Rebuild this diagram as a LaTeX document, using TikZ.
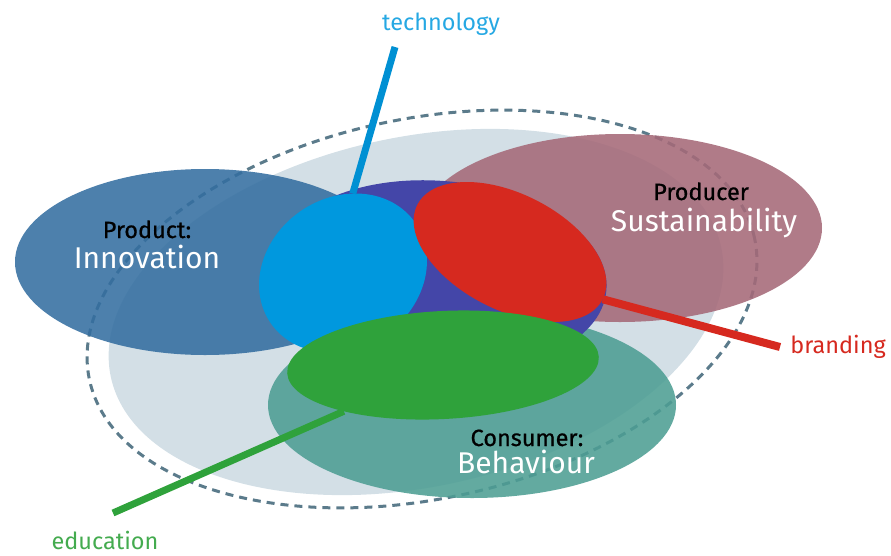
\documentclass[tikz,border=0pt]{standalone}
\usepackage{fontspec}
\setmainfont{Fira Sans}
\newfontfamily\headfont{Fira Sans}[FakeBold=0.6]
\usetikzlibrary{shapes.geometric}

\definecolor{cloudgrey}{HTML}{D3DFE6}
\definecolor{ringgrey}{HTML}{5B7B8B}
\definecolor{productblue}{HTML}{346EA0}
\definecolor{producermauve}{HTML}{A56978}
\definecolor{consumerteal}{HTML}{4D9E93}
\definecolor{corepurple}{HTML}{4446A8}
\definecolor{techblue}{HTML}{0098DE}
\definecolor{brandred}{HTML}{D6291F}
\definecolor{edugreen}{HTML}{2FA23B}

\tikzset{
  blob/.style={ellipse, inner sep=0pt, outer sep=0pt},
  pale/.style={blob, fill opacity=0.88},
  word/.style={font=\fontsize{30}{30}\selectfont, text=white, anchor=base, inner sep=0pt},
  head/.style={font=\headfont\fontsize{23.5}{24}\selectfont, text=black, anchor=base, inner sep=0pt},
  tag/.style={font=\fontsize{23.5}{24}\selectfont, anchor=base, inner sep=0pt},
  spoke/.style={line width=7pt}
}

\begin{document}
\begin{tikzpicture}[x=1pt, y=-1pt]
  \useasboundingbox (0,0) rectangle (891,555);

  \node[blob, fill=cloudgrey, minimum width=624pt, minimum height=350pt, rotate=12] (cloud) at (416,312) {};
  \node[blob, draw=ringgrey, line width=3pt, dash pattern=on 8pt off 6pt,
        minimum width=680pt, minimum height=380pt, rotate=12] (ring) at (422,309) {};

  \node[pale, fill=productblue, minimum width=380pt, minimum height=186pt] (product) at (205,262) {};
  \node[pale, fill=producermauve, minimum width=404pt, minimum height=188pt] (producer) at (620,228) {};
  \node[pale, fill=consumerteal, minimum width=408pt, minimum height=186pt] (consumer) at (472,405) {};

  \node[blob, fill=corepurple, minimum width=334pt, minimum height=190pt, rotate=-5] (core) at (440,276) {};
  \node[blob, fill=techblue, minimum width=176pt, minimum height=150pt, rotate=35] (sky) at (343,273) {};
  \node[blob, fill=brandred, minimum width=208pt, minimum height=116pt, rotate=-27] (brand) at (510,252) {};
  \node[blob, fill=edugreen, minimum width=312pt, minimum height=108pt, rotate=3] (edu) at (443,365) {};

  \node[tag, text=techblue!85!white] (technology) at (441,30) {technology};
  \node[tag, text=brandred] (branding) at (838,353) {branding};
  \node[tag, text=edugreen!90!white] (education) at (105,549) {education};

  \coordinate (techtip) at (395,47);
  \coordinate (brandtip) at (780,347);
  \coordinate (edutip) at (113,513);
  \draw[spoke, draw=techblue!95!black] (techtip) -- (sky.48);
  \draw[spoke, draw=brandred, line width=8pt] (brandtip) -- (brand.east);
  \draw[spoke, draw=edugreen] (edutip) -- (edu.202);

  \node[head] (productlbl) at (147,238) {Product:};
  \node[word] (innovation) at (147,268) {Innovation};
  \node[head] (producerlbl) at (701,200) {Producer};
  \node[word] (sustain) at (704,231) {Sustainability};
  \node[head] (consumerlbl) at (527,446) {Consumer:};
  \node[word] (behaviour) at (526,473) {Behaviour};
\end{tikzpicture}
\end{document}
